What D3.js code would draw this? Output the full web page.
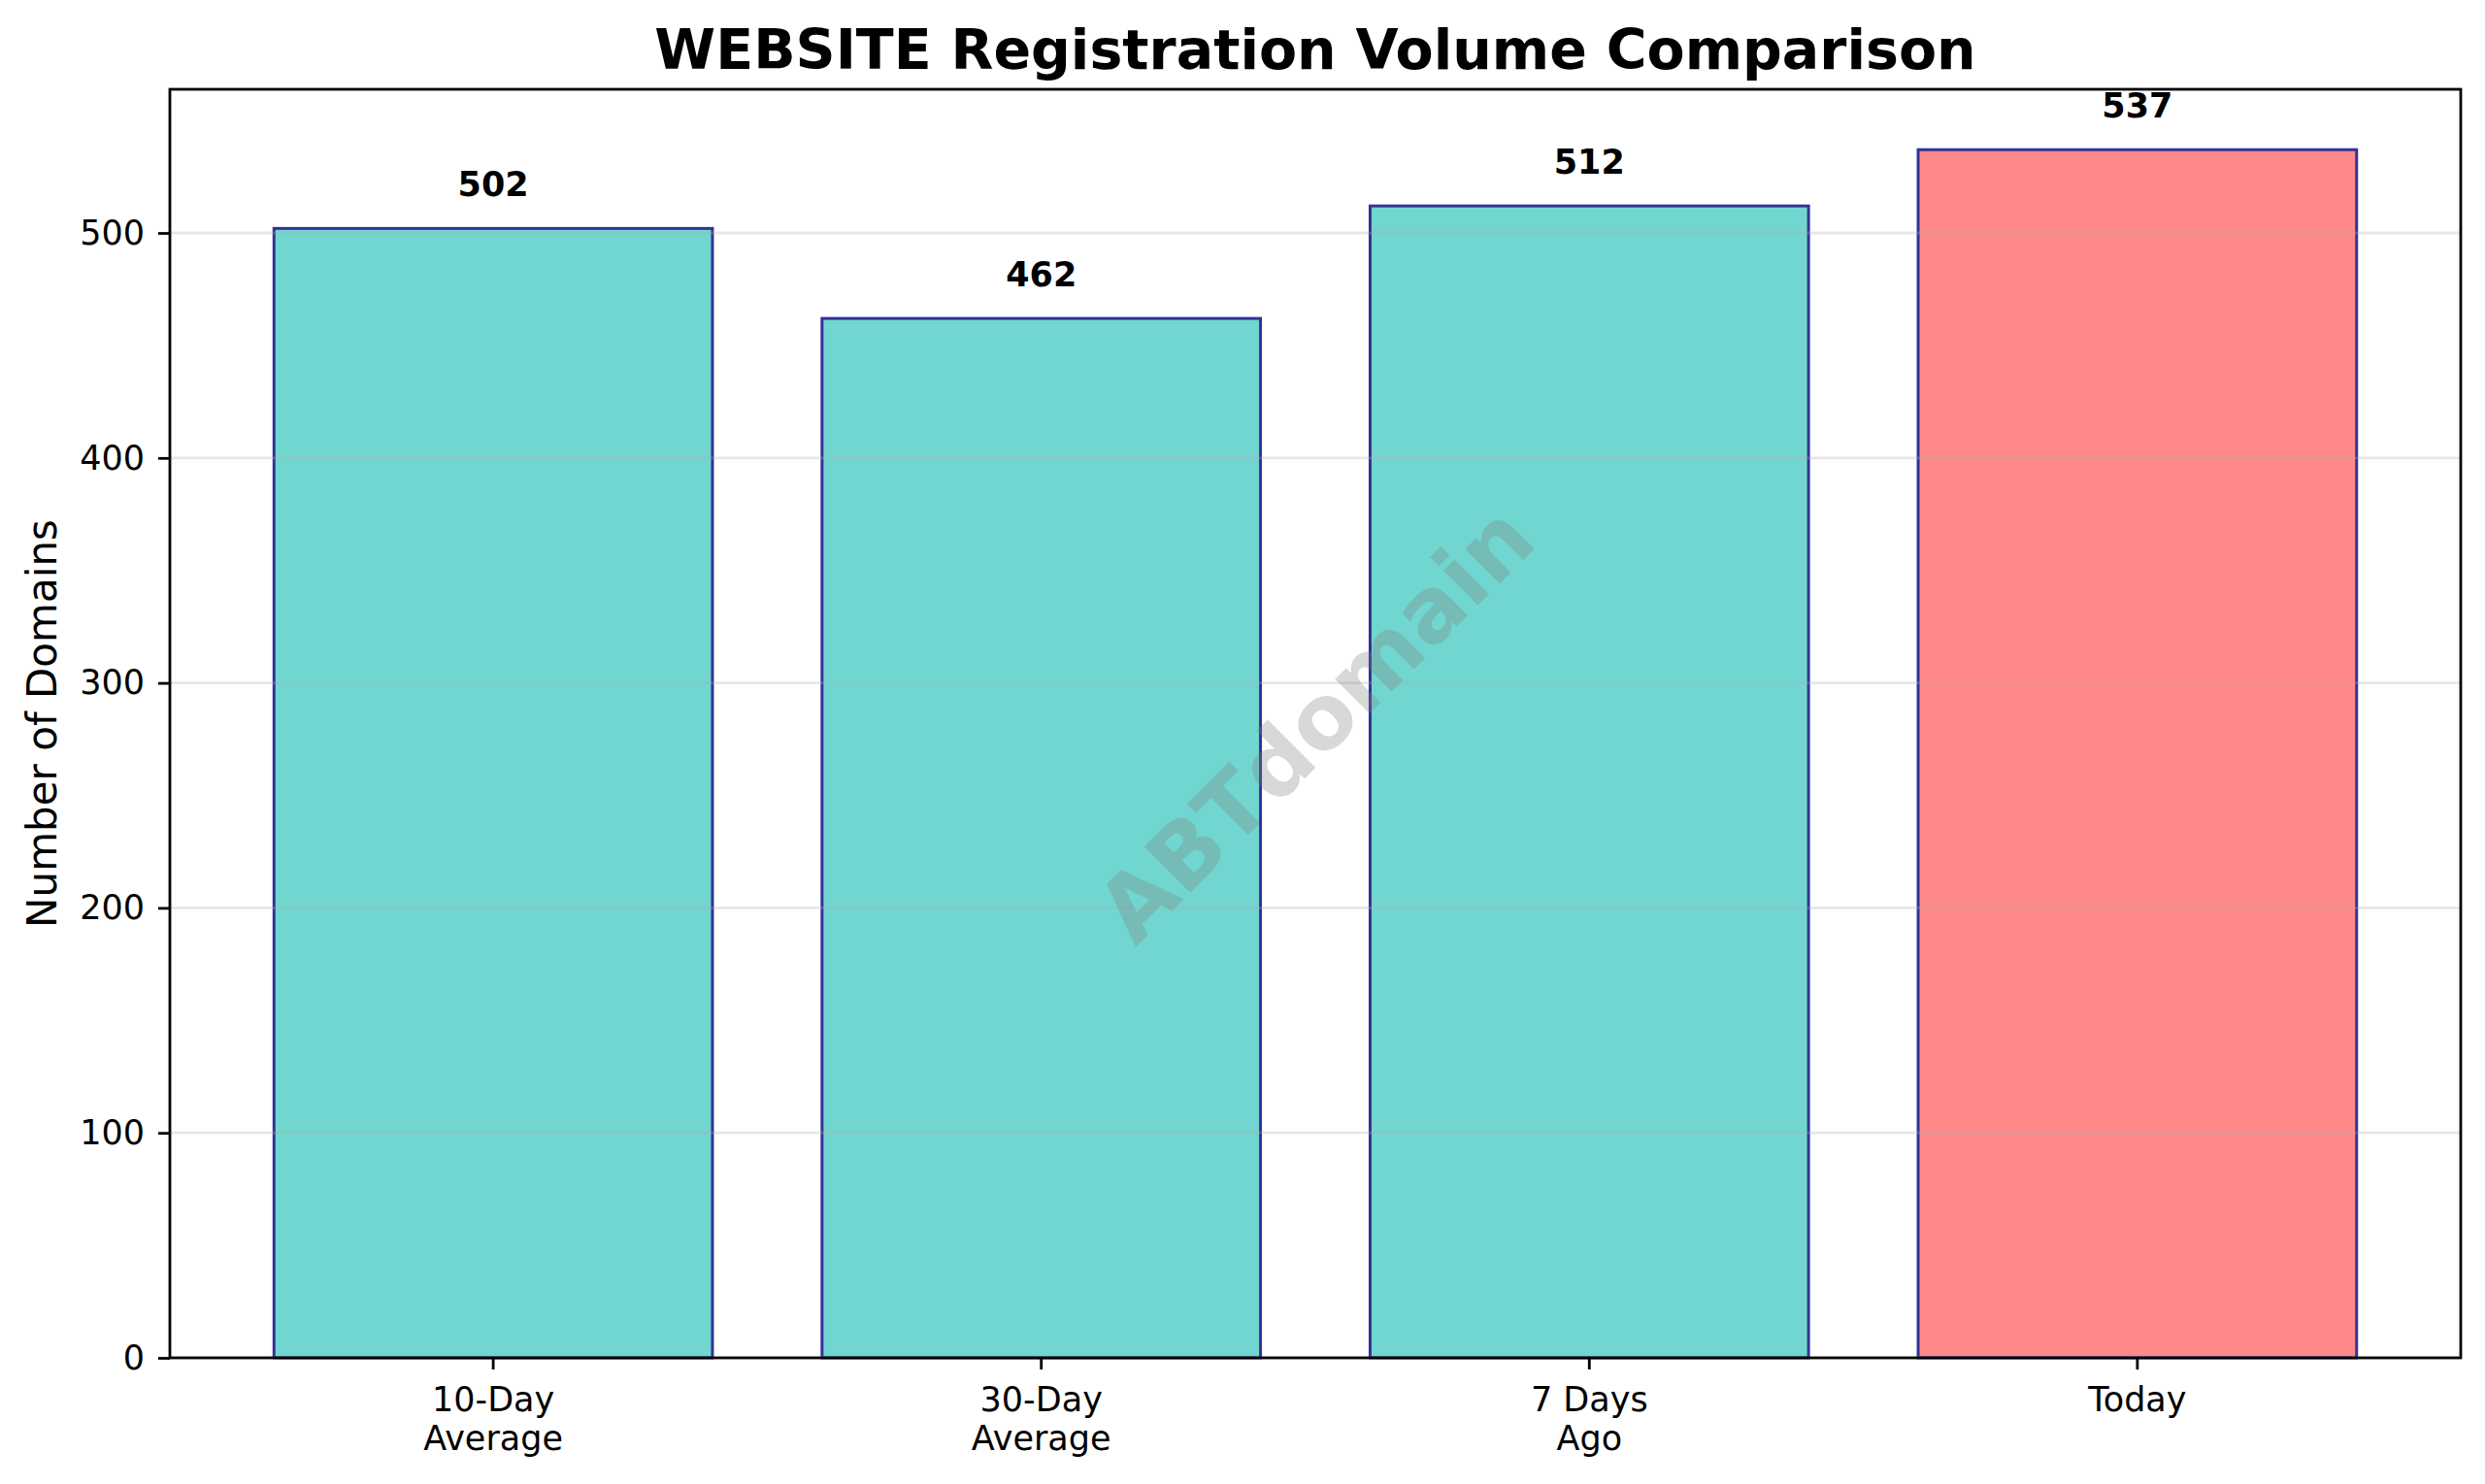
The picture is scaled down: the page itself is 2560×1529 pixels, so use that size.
<!DOCTYPE html>
<html>
<head>
<meta charset="utf-8">
<script src="https://cdn.jsdelivr.net/npm/d3@7"></script>
<style>
  body { margin: 0; background: #fff; }
  svg, svg text { font-family: "DejaVu Sans", sans-serif; }
  svg { display: block; }
</style>
</head>
<body>
<div id="chart"></div>
<script>
// chart data
const categories = ["10-Day\nAverage", "30-Day\nAverage", "7 Days\nAgo", "Today"];
const values = [502, 462, 512, 537];
const barColors = ["#4ECDC4", "#4ECDC4", "#4ECDC4", "#FF6B6B"];
const yTicks = [0, 100, 200, 300, 400, 500];

const W = 2560, H = 1529;
const margin = { top: 92, right: 25, bottom: 130, left: 175 };
const width = W - margin.left - margin.right,
  height = H - margin.top - margin.bottom;

const svg = d3.select("#chart")
  .append("svg")
  .attr("width", W)
  .attr("height", H);

svg.append("rect").attr("width", W).attr("height", H).attr("fill", "#fff");

const g = svg.append("g")
  .attr("transform", `translate(${margin.left},${margin.top})`);

const maxVal = d3.max(values);

// scales (matplotlib-like margins)
const x = d3.scaleBand()
  .domain(categories)
  .range([0, width])
  .paddingInner(0.2)
  .paddingOuter(0.19);

const y = d3.scaleLinear()
  .domain([0, maxVal * 1.05])
  .range([height, 0]);

// bars
g.selectAll(".bar")
  .data(values)
  .enter()
  .append("rect")
  .attr("class", "bar")
  .attr("x", (d, i) => x(categories[i]))
  .attr("y", d => y(d))
  .attr("width", x.bandwidth())
  .attr("height", d => height - y(d))
  .attr("fill", (d, i) => barColors[i])
  .attr("stroke", "navy")
  .attr("stroke-width", 3)
  .attr("opacity", 0.8);

// grid on top of bars
g.selectAll(".grid")
  .data(yTicks)
  .enter()
  .append("line")
  .attr("class", "grid")
  .attr("x1", 0)
  .attr("x2", width)
  .attr("y1", d => y(d))
  .attr("y2", d => y(d))
  .attr("stroke", "#b0b0b0")
  .attr("stroke-opacity", 0.3)
  .attr("stroke-width", 2.8);

// value labels
g.selectAll(".val")
  .data(values)
  .enter()
  .append("text")
  .attr("class", "val")
  .attr("x", (d, i) => x(categories[i]) + x.bandwidth() / 2)
  .attr("y", d => y(d + maxVal * 0.02) - 8)
  .attr("text-anchor", "middle")
  .style("font-size", "35px")
  .style("font-weight", "bold")
  .text(d => d);

// watermark
g.append("text")
  .attr("transform", `translate(${width / 2},${height / 2}) rotate(-45)`)
  .attr("text-anchor", "middle")
  .attr("dy", "0.35em")
  .style("font-size", "92px")
  .style("font-weight", "bold")
  .attr("fill", "gray")
  .attr("opacity", 0.3)
  .text("ABTdomain");

// axes
const yAxis = g.append("g")
  .call(d3.axisLeft(y).tickValues(yTicks).tickSize(12).tickPadding(14));
yAxis.attr("font-family", null);
yAxis.select(".domain").remove();
yAxis.selectAll("line").attr("stroke-width", 2.8);
yAxis.selectAll("text").style("font-size", "35px").attr("fill", "#000");

const xAxis = g.append("g")
  .attr("transform", `translate(0,${height})`)
  .call(d3.axisBottom(x).tickSize(12).tickFormat(""));
xAxis.attr("font-family", null);
xAxis.select(".domain").remove();
xAxis.selectAll("line").attr("stroke-width", 2.8);

// multi-line x tick labels
xAxis.selectAll(".tick").each(function (d) {
  const t = d3.select(this).append("text")
    .attr("fill", "#000")
    .attr("text-anchor", "middle")
    .style("font-size", "35px");
  d.split("\n").forEach((line, k) => {
    t.append("tspan").attr("x", 0).attr("y", 55 + k * 40).text(line);
  });
});

// frame
g.append("rect")
  .attr("width", width)
  .attr("height", height)
  .attr("fill", "none")
  .attr("stroke", "#000")
  .attr("stroke-width", 2.8);

// title and y label
svg.append("text")
  .attr("x", margin.left + width / 2)
  .attr("y", 71)
  .attr("text-anchor", "middle")
  .style("font-size", "57px")
  .style("font-weight", "bold")
  .text("WEBSITE Registration Volume Comparison");

svg.append("text")
  .attr("transform", `translate(58,${margin.top + height / 2}) rotate(-90)`)
  .attr("text-anchor", "middle")
  .style("font-size", "42px")
  .text("Number of Domains");
</script>
</body>
</html>
